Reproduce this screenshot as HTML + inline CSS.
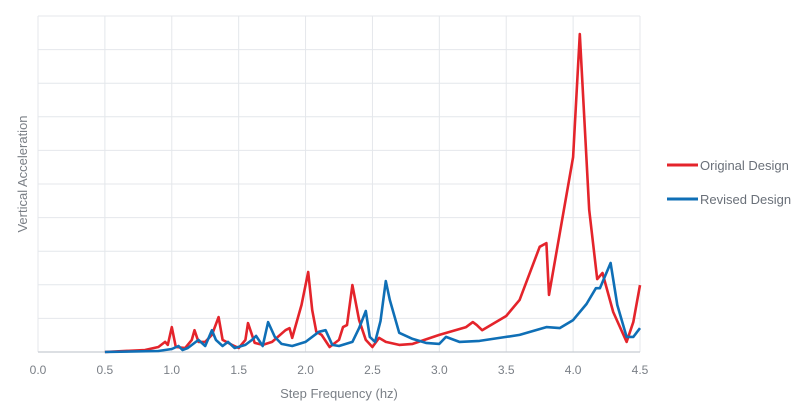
<!DOCTYPE html>
<html><head><meta charset="utf-8"><style>
html,body{margin:0;padding:0;background:#fff;}
svg{display:block;font-family:"Liberation Sans",sans-serif;}
</style></head><body>
<svg id="chart" width="800" height="418" viewBox="0 0 800 418">
<g id="grid"></g>
<g id="xticks"></g>
<line x1="38" y1="352" x2="640" y2="352" stroke="#c8ccd2" stroke-width="1.2"/>
<g id="series"></g>
<text x="339" y="398" text-anchor="middle" font-size="13" fill="#7a7f86">Step Frequency (hz)</text>
<text transform="translate(27,174) rotate(-90)" text-anchor="middle" font-size="13" fill="#7a7f86">Vertical Acceleration</text>
<g>
<g>
<line x1="667" y1="165" x2="698" y2="165" stroke="#e4242b" stroke-width="3"/>
<text x="700" y="170" font-size="13" fill="#6a7079">Original Design</text></g>
<g>
<line x1="667" y1="199" x2="698" y2="199" stroke="#0f6fb6" stroke-width="3"/>
<text x="700" y="204" font-size="13" fill="#6a7079">Revised Design</text></g>
</g>
</svg>
<script>
const xTicks=[0,0.5,1,1.5,2,2.5,3,3.5,4,4.5];
const xTickLabels=["0.0","0.5","1.0","1.5","2.0","2.5","3.0","3.5","4.0","4.5"];
const yGrid=[1,2,3,4,5,6,7,8,9,10];
const originalX=[0.5,0.8,0.9,0.95,0.97,1.0,1.03,1.1,1.15,1.17,1.2,1.25,1.3,1.35,1.38,1.45,1.5,1.55,1.57,1.62,1.68,1.75,1.85,1.88,1.9,1.97,2.02,2.05,2.08,2.12,2.18,2.25,2.28,2.31,2.35,2.4,2.45,2.5,2.55,2.6,2.7,2.8,3.0,3.2,3.25,3.28,3.32,3.5,3.6,3.75,3.8,3.82,4.0,4.05,4.12,4.18,4.22,4.3,4.4,4.45,4.5];
const originalY=[0,0.06,0.15,0.3,0.21,0.74,0.15,0.12,0.36,0.65,0.3,0.3,0.51,1.04,0.36,0.21,0.12,0.36,0.86,0.27,0.21,0.3,0.65,0.71,0.42,1.4,2.38,1.25,0.6,0.51,0.15,0.36,0.74,0.8,1.99,0.95,0.36,0.15,0.42,0.3,0.21,0.24,0.51,0.74,0.89,0.8,0.65,1.07,1.55,3.13,3.24,1.7,5.8,9.46,4.23,2.17,2.35,1.19,0.3,0.89,1.99];
const revisedX=[0.5,0.9,1.0,1.05,1.08,1.12,1.2,1.25,1.3,1.33,1.38,1.42,1.47,1.55,1.6,1.63,1.68,1.72,1.77,1.82,1.9,2.0,2.1,2.15,2.2,2.25,2.35,2.4,2.45,2.48,2.52,2.56,2.6,2.63,2.7,2.8,2.9,3.0,3.05,3.15,3.3,3.5,3.6,3.8,3.9,4.0,4.1,4.17,4.2,4.28,4.33,4.4,4.45,4.5];
const revisedY=[0,0.03,0.09,0.18,0.06,0.12,0.36,0.18,0.65,0.36,0.18,0.3,0.12,0.21,0.36,0.48,0.18,0.89,0.45,0.24,0.18,0.3,0.6,0.65,0.21,0.18,0.3,0.71,1.22,0.45,0.3,0.92,2.11,1.55,0.57,0.39,0.27,0.24,0.45,0.3,0.33,0.45,0.51,0.74,0.71,0.95,1.43,1.9,1.9,2.65,1.4,0.45,0.45,0.71];
const NS="http://www.w3.org/2000/svg";
const X0=38,X1=640,Y0=352,YU=33.6;
function sx(v){return X0+(X1-X0)*v/4.5;}
function sy(v){return Y0-v*YU;}
const grid=document.getElementById('grid');
xTicks.forEach((t,i)=>{
 const l=document.createElementNS(NS,'line');
 l.setAttribute('x1',sx(t));l.setAttribute('x2',sx(t));l.setAttribute('y1',sy(10));l.setAttribute('y2',Y0);
 l.setAttribute('stroke','#e4e7eb');l.setAttribute('stroke-width','1');
 
 
 grid.appendChild(l);
 const tx=document.createElementNS(NS,'text');
 tx.setAttribute('x',sx(t));tx.setAttribute('y',374);tx.setAttribute('text-anchor','middle');
 tx.setAttribute('font-size','12');tx.setAttribute('fill','#7a7f86');
 tx.textContent=xTickLabels[i];
 
 
 document.getElementById('xticks').appendChild(tx);
});
yGrid.forEach(g=>{
 const l=document.createElementNS(NS,'line');
 l.setAttribute('x1',X0);l.setAttribute('x2',X1);l.setAttribute('y1',sy(g));l.setAttribute('y2',sy(g));
 l.setAttribute('stroke','#e4e7eb');l.setAttribute('stroke-width','1');
 
 
 grid.appendChild(l);
});
function drawSeries(xs,ys,color,name){
 const p=document.createElementNS(NS,'polyline');
 p.setAttribute('points',xs.map((x,i)=>sx(x).toFixed(1)+','+sy(ys[i]).toFixed(1)).join(' '));
 p.setAttribute('fill','none');p.setAttribute('stroke',color);p.setAttribute('stroke-width','2.6');
 p.setAttribute('stroke-linejoin','round');
 
 
 document.getElementById('series').appendChild(p);
}
drawSeries(originalX,originalY,'#e4242b','original-design-line');
drawSeries(revisedX,revisedY,'#0f6fb6','revised-design-line');
</script>
</body></html>
